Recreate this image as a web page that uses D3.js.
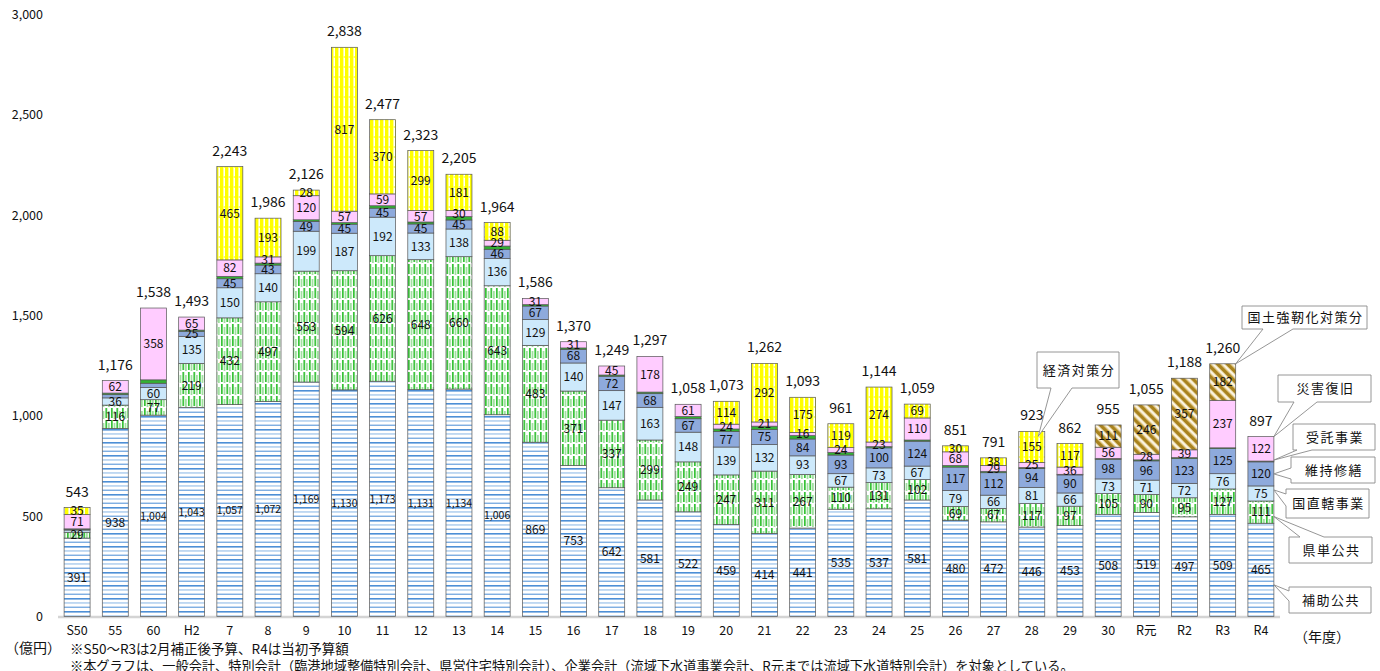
<!DOCTYPE html>
<meta charset="utf-8">
<style>
  html, body { margin:0; width:100%; height:100%; overflow:hidden; background:#fff; }
  svg text { font-family: "Noto Sans CJK JP", "Noto Sans", sans-serif; fill:#111; }
</style>
<svg width="1380" height="671"></svg>
<script src="https://d3js.org/d3.v7.min.js"></script>
<script>

// 年度
var years = ["S50","55","60","H2","7","8","9","10","11","12","13","14","15","16","17","18",
             "19","20","21","22","23","24","25","26","27","28","29","30","R元","R2","R3","R4"];

// 億円, stacked bottom to top
var hojoKokyo   = [391,938,1004,1043,1057,1072,1169,1130,1173,1131,1134,1006,869,753,642,581,
                   522,459,414,441,535,537,581,480,472,446,453,508,519,497,509,465];
var kentanKokyo = [29,116,77,219,432,497,553,594,626,648,660,643,483,371,337,299,
                   249,247,311,267,110,131,102,69,67,117,97,105,90,95,127,111];
var kunichokkatsu = [11,36,60,135,150,140,199,187,192,133,138,136,129,140,147,163,
                   148,139,132,93,67,73,67,79,66,81,66,73,71,72,76,75];
var ijiShuzen   = [4,16,22,25,45,43,49,45,45,45,45,46,67,68,72,68,
                   67,77,75,84,93,100,124,117,112,94,90,98,96,123,125,120];
var jutakuJigyo = [2,8,17,6,12,10,8,8,12,10,17,16,7,7,6,8,
                   11,13,17,17,13,6,6,8,7,5,3,4,5,5,4,4];
var saigaiFukkyu = [71,62,358,65,82,31,120,57,59,57,30,29,31,31,45,178,
                   61,24,21,16,24,23,110,68,29,25,36,56,28,39,237,122];
var keizaiTaisaku = [35,0,0,0,465,193,28,817,370,299,181,88,0,0,0,0,
                   0,114,292,175,119,274,69,30,38,155,117,0,0,0,0,0];
var kyojinka    = [0,0,0,0,0,0,0,0,0,0,0,0,0,0,0,0,
                   0,0,0,0,0,0,0,0,0,0,0,111,246,357,182,0];

var seriesNames = ["補助公共","県単公共","国直轄事業","維持修繕","受託事業","災害復旧","経済対策分","国土強靭化対策分"];
var seriesValues = [hojoKokyo, kentanKokyo, kunichokkatsu, ijiShuzen, jutakuJigyo, saigaiFukkyu, keizaiTaisaku, kyojinka];
var yTicks = [0, 500, 1000, 1500, 2000, 2500, 3000];

// cells without a data label in the original
var unlabeled = ["S50|国直轄事業", "S50|維持修繕", "55|維持修繕", "60|維持修繕"];

var rows = years.map(function(y, i) {
  var r = { year: y };
  seriesNames.forEach(function(s, k) { r[s] = seriesValues[k][i]; });
  r.total = d3.sum(seriesValues, function(v) { return v[i]; });
  return r;
});

var svg = d3.select("svg");
var defs = svg.append("defs");

// patterns
var p = defs.append("pattern").attr("id", "p-hojo").attr("patternUnits", "userSpaceOnUse")
  .attr("width", 10).attr("height", 13);
p.append("rect").attr("width", 10).attr("height", 13).attr("fill", "#fff");
p.append("rect").attr("y", 0).attr("width", 10).attr("height", 1.6).attr("fill", "#4d8fd6");
p.append("rect").attr("y", 4.3).attr("width", 10).attr("height", 1.3).attr("fill", "#a3c7ec");
p.append("rect").attr("y", 8.6).attr("width", 10).attr("height", 1.3).attr("fill", "#72a7df");

p = defs.append("pattern").attr("id", "p-kentan").attr("patternUnits", "userSpaceOnUse")
  .attr("width", 5.5).attr("height", 12);
p.append("rect").attr("width", 5.5).attr("height", 12).attr("fill", "#fff");
p.append("rect").attr("x", 1).attr("width", 1.6).attr("height", 10).attr("fill", "#22bb22");
p.append("rect").attr("x", 3.8).attr("y", 3).attr("width", 1.3).attr("height", 8).attr("fill", "#7fd67f");

p = defs.append("pattern").attr("id", "p-keizai").attr("patternUnits", "userSpaceOnUse")
  .attr("width", 5).attr("height", 10);
p.append("rect").attr("width", 5).attr("height", 10).attr("fill", "#fff");
p.append("rect").attr("width", 3.4).attr("height", 10).attr("fill", "#ffff00");
p.append("rect").attr("x", 3.4).attr("y", 6).attr("width", 1.6).attr("height", 2).attr("fill", "#ffff66");

p = defs.append("pattern").attr("id", "p-kyojin").attr("patternUnits", "userSpaceOnUse")
  .attr("width", 7).attr("height", 7).attr("patternTransform", "rotate(-45)");
p.append("rect").attr("width", 7).attr("height", 7).attr("fill", "#fffaf0");
p.append("rect").attr("width", 3).attr("height", 7).attr("fill", "#a8821e");
p.append("rect").attr("x", 3).attr("width", 1.3).attr("height", 7).attr("fill", "#d9bd72");
p.append("rect").attr("x", 6).attr("width", 1).attr("height", 7).attr("fill", "#e9d8a6");

var fills = {
  "補助公共": "url(#p-hojo)",
  "県単公共": "url(#p-kentan)",
  "国直轄事業": "#cde9fb",
  "維持修繕": "#8eaadc",
  "受託事業": "#33b233",
  "災害復旧": "#ffccff",
  "経済対策分": "url(#p-keizai)",
  "国土強靭化対策分": "url(#p-kyojin)"
};

var x = d3.scaleBand().domain(years).range([58, 1280]).paddingInner(0.32).paddingOuter(0.16);
var y = d3.scaleLinear().domain([0, 3000]).range([616.5, 14.8]);
var fmt = d3.format(",");

var stacked = d3.stack().keys(seriesNames)(rows);

// axis baseline
svg.append("line").attr("x1", 58).attr("x2", 1280).attr("y1", 617).attr("y2", 617)
  .attr("stroke", "#d4d4d4").attr("stroke-width", 2.5);

// y tick labels
svg.append("g").selectAll("text").data(yTicks).enter().append("text")
  .attr("x", 43).attr("y", function(d) { return y(d); })
  .attr("dy", "0.35em").attr("text-anchor", "end")
  .style("font-size", "12.5px")
  .text(function(d) { return fmt(d); });

// bars
var layer = svg.append("g").selectAll("g").data(stacked).enter().append("g")
  .attr("fill", function(d) { return fills[d.key]; });

layer.selectAll("rect").data(function(d) { return d.filter(function(e) { return e[1] > e[0]; }); })
  .enter().append("rect")
    .attr("x", function(d) { return x(d.data.year); })
    .attr("width", x.bandwidth())
    .attr("y", function(d) { return y(d[1]); })
    .attr("height", function(d) { return y(d[0]) - y(d[1]); })
    .attr("stroke", "#555")
    .attr("stroke-width", 0.7);

// segment labels
stacked.forEach(function(s) {
  if (s.key === "受託事業") return;
  svg.append("g").selectAll("text")
    .data(s.filter(function(e) {
      return e[1] > e[0] && unlabeled.indexOf(e.data.year + "|" + s.key) < 0;
    }))
    .enter().append("text")
      .attr("x", function(d) { return x(d.data.year) + x.bandwidth() / 2; })
      .attr("y", function(d) { return y((d[0] + d[1]) / 2); })
      .attr("dy", "0.36em")
      .attr("text-anchor", "middle")
      .style("font-size", function(d) { return d[1] - d[0] >= 1000 ? "10.5px" : "12px"; })
      .text(function(d) { return fmt(d[1] - d[0]); });
});

// totals
svg.append("g").selectAll("text").data(rows).enter().append("text")
  .attr("x", function(d) { return x(d.year) + x.bandwidth() / 2; })
  .attr("y", function(d) { return y(d.total) - 11; })
  .attr("text-anchor", "middle")
  .style("font-size", "14px")
  .text(function(d) { return fmt(d.total); });

// category labels
svg.append("g").selectAll("text").data(years).enter().append("text")
  .attr("x", function(d) { return x(d) + x.bandwidth() / 2; })
  .attr("y", 630).attr("dy", "0.36em")
  .attr("text-anchor", "middle")
  .style("font-size", "12.5px")
  .text(function(d) { return d; });

svg.append("text").attr("x", 5).attr("y", 648).attr("dy", "0.36em")
  .style("font-size", "14px").text("（億円）");
svg.append("text").attr("x", 1294).attr("y", 637).attr("dy", "0.36em")
  .style("font-size", "14px").text("（年度）");
svg.append("text").attr("x", 70).attr("y", 649).attr("dy", "0.36em")
  .style("font-size", "13.5px").text("※S50～R3は2月補正後予算、R4は当初予算額");
svg.append("text").attr("x", 70).attr("y", 666).attr("dy", "0.36em")
  .style("font-size", "13.2px")
  .text("※本グラフは、一般会計、特別会計（臨港地域整備特別会計、県営住宅特別会計）、企業会計（流域下水道事業会計、R元までは流域下水道特別会計）を対象としている。");

// callouts
function cum(year, upto, frac) {
  var i = years.indexOf(year), k = seriesNames.indexOf(upto), base = 0;
  for (var j = 0; j < k; j++) base += seriesValues[j][i];
  return base + seriesValues[k][i] * frac;
}
var right = function(yr) { return x(yr) + x.bandwidth(); };

var callouts = [
  { text: "国土強靭化対策分", box: [1242, 306, 1367, 329], side: "bottom", base: [1263, 1293],
    tip: [right("R3"), y(cum("R3", "国土強靭化対策分", 1))] },
  { text: "経済対策分", box: [1037, 352, 1119, 388], side: "bottom", base: [1051, 1072],
    tip: [x("28") + x.bandwidth() * 0.75, y(cum("28", "経済対策分", 1)) + 5] },
  { text: "災害復旧", box: [1278, 375, 1371, 402], side: "bottom", base: [1294, 1317],
    tip: [right("R4"), y(cum("R4", "災害復旧", 1))] },
  { text: "受託事業", box: [1293, 424, 1375, 450], side: "bottom", base: [1297, 1312],
    tip: [right("R4"), y(cum("R4", "受託事業", 1)) - 1] },
  { text: "維持修繕", box: [1291, 457, 1375, 483], side: "left", base: [468, 479],
    tip: [right("R4"), y(cum("R4", "維持修繕", 0.5))] },
  { text: "国直轄事業", box: [1286, 489, 1369, 518], side: "left", base: [494, 506],
    tip: [right("R4"), y(cum("R4", "国直轄事業", 1)) + 4] },
  { text: "県単公共", box: [1289, 537, 1372, 563], side: "top", base: [1300, 1324],
    tip: [right("R4"), y(cum("R4", "県単公共", 0.3))] },
  { text: "補助公共", box: [1289, 587, 1371, 613], side: "left", base: [591, 601],
    tip: [right("R4"), y(cum("R4", "補助公共", 0.34))] }
];

function calloutPath(c) {
  var b = c.box, x0 = b[0], y0 = b[1], x1 = b[2], y1 = b[3], t = c.tip;
  var path = d3.path();
  path.moveTo(x0, y0);
  if (c.side === "top") { path.lineTo(c.base[0], y0); path.lineTo(t[0], t[1]); path.lineTo(c.base[1], y0); }
  path.lineTo(x1, y0);
  path.lineTo(x1, y1);
  if (c.side === "bottom") { path.lineTo(c.base[1], y1); path.lineTo(t[0], t[1]); path.lineTo(c.base[0], y1); }
  path.lineTo(x0, y1);
  if (c.side === "left") { path.lineTo(x0, c.base[1]); path.lineTo(t[0], t[1]); path.lineTo(x0, c.base[0]); }
  path.closePath();
  return path.toString();
}

var cg = svg.append("g").selectAll("g").data(callouts).enter().append("g");
cg.append("path").attr("d", calloutPath)
  .attr("fill", "#fff").attr("stroke", "#8a8a8a").attr("stroke-width", 0.9);
cg.append("text")
  .attr("x", function(d) { return (d.box[0] + d.box[2]) / 2 + 1; })
  .attr("y", function(d) { return (d.box[1] + d.box[3]) / 2; })
  .attr("dy", "0.36em").attr("text-anchor", "middle")
  .style("font-size", "13px").style("letter-spacing", "1.5px")
  .text(function(d) { return d.text; });

</script>
